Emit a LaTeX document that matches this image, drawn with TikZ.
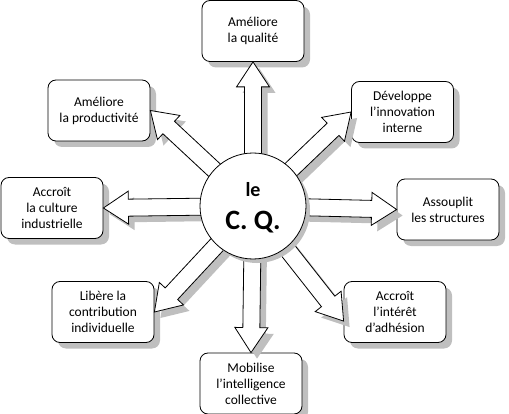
\documentclass[tikz,border=0pt]{standalone}
\usepackage{fontspec}
\setmainfont{Carlito}
\usetikzlibrary{calc, shadows}

\newcommand{\cqarrow}[2]{%
  \coordinate (cqh) at ($(#2)!25pt!(#1)$);
  \draw [blockarrow] ($(#1)!8.5pt!90:(#2)$) -- ($(cqh)!8.5pt!-90:(#1)$) -- ($(cqh)!16.5pt!-90:(#1)$) -- (#2)
    -- ($(cqh)!16.5pt!90:(#1)$) -- ($(cqh)!8.5pt!90:(#1)$) -- ($(#1)!8.5pt!-90:(#2)$) -- cycle;
}

\begin{document}
\begin{tikzpicture}[x=1pt, y=1pt]
        \tikzstyle{effect} = [rectangle, rounded corners=8pt, minimum width=102pt, minimum height=61pt, text centered, align=center, draw=black, line width=0.8pt, fill=white, font=\fontsize{13.5}{16}\selectfont, drop shadow={shadow xshift=6pt, shadow yshift=-6pt, fill=black!25, opacity=1}]
        \tikzstyle{core} = [circle, minimum size=106pt, inner sep=0pt, align=center, draw=black, line width=0.8pt, fill=white, font=\bfseries\fontsize{28}{33}\selectfont, drop shadow={shadow xshift=4pt, shadow yshift=-4pt, fill=black!25, opacity=1}]
        \tikzstyle{blockarrow} = [draw=black, fill=white, line width=0.8pt, line join=miter, drop shadow={shadow xshift=6pt, shadow yshift=-6pt, fill=black!25, opacity=1}]

        \useasboundingbox (0,0) rectangle (509,413);

        \node (qualite) [effect] at (253,382) {Améliore\\la qualité};
        \node (productivite) [effect] at (99,302.5) {Améliore\\la productivité};
        \node (innovation) [effect] at (402.5,301) {Développe\\l’innovation\\interne};
        \node (culture) [effect] at (52,205) {Accroît\\la culture\\industrielle};
        \node (structures) [effect] at (448,203.5) {Assouplit\\les structures};
        \node (contribution) [effect] at (103,101) {Libère la\\contribution\\individuelle};
        \node (adhesion) [effect] at (395,101) {Accroît\\l’intérêt\\d’adhésion};
        \node (collective) [effect] at (251,29.5) {Mobilise\\l’intelligence\\collective};

        \coordinate (cqc) at (253,207);

        \cqarrow{cqc}{qualite.south}
        \cqarrow{cqc}{productivite.east}
        \cqarrow{cqc}{innovation.west}
        \cqarrow{cqc}{culture.east}
        \cqarrow{cqc}{structures.west}
        \cqarrow{cqc}{contribution.east}
        \cqarrow{cqc}{adhesion.190}
        \cqarrow{cqc}{collective.north}

        \node (cq) [core] at (cqc) {\rule{0pt}{18pt}{\fontsize{20}{20}\selectfont le}\\C. Q.};
    \end{tikzpicture}
\end{document}
